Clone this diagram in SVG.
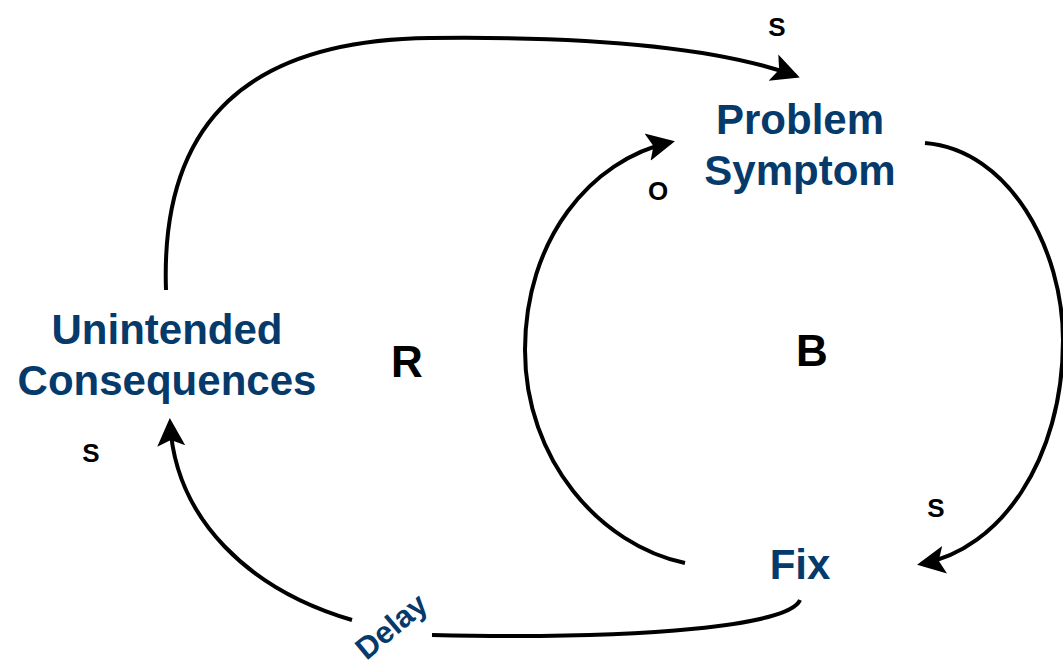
<svg xmlns="http://www.w3.org/2000/svg" width="1063" height="664" viewBox="0 0 1063 664">
<defs>
<marker id="ah" markerWidth="8" markerHeight="8" refX="6" refY="4" orient="auto" markerUnits="strokeWidth">
<path d="M0,0.5 L7,4 L0,7.5 L1.5,4 Z" fill="#000"/>
</marker>
<style>
.c{fill:none;stroke:#000;stroke-width:4;}
.n{font-family:"Liberation Sans",Arial,sans-serif;font-weight:bold;font-size:42px;fill:#053a6b;text-anchor:middle;}
.l{font-family:"Liberation Sans",Arial,sans-serif;font-weight:bold;fill:#000;text-anchor:middle;}
</style>
</defs>
<rect width="1063" height="664" fill="#fff"/>
<g id="connectors">
<path class="c" d="M166,290 C160,120 250,40 430,38 C600,36 720,48 796,76" marker-end="url(#ah)"/>
<path class="c" d="M925,143 C1010,150 1063,250 1063,340 C1063,460 1000,550 921,564" marker-end="url(#ah)"/>
<path class="c" d="M685,563 C600,545 525,460 525,350 C525,240 590,160 671,142" marker-end="url(#ah)"/>
<path class="c" d="M800,600 C790,625 650,640 432,635"/>
<path class="c" d="M352,620 C250,590 175,520 170,422" marker-end="url(#ah)"/>
</g>
<g id="problem-symptom"><text class="n" x="800" y="134">Problem</text><text class="n" x="800" y="185">Symptom</text></g>
<g id="unintended-consequences"><text class="n" x="167" y="344">Unintended</text><text class="n" x="167" y="395">Consequences</text></g>
<g id="fix"><text class="n" x="800" y="579">Fix</text></g>
<g id="labels">
<text class="l" x="407" y="377" font-size="44">R</text>
<text class="l" x="812" y="366" font-size="44">B</text>
<text class="l" x="777" y="36" font-size="26">S</text>
<text class="l" x="91" y="462" font-size="26">S</text>
<text class="l" x="936" y="517" font-size="26">S</text>
<text class="l" x="658" y="200" font-size="26">O</text>
<text transform="translate(391,626) rotate(-40)" font-family="Liberation Sans,Arial,sans-serif" font-weight="bold" font-size="31" fill="#053a6b" text-anchor="middle" dy="11">Delay</text>
</g>
</svg>
